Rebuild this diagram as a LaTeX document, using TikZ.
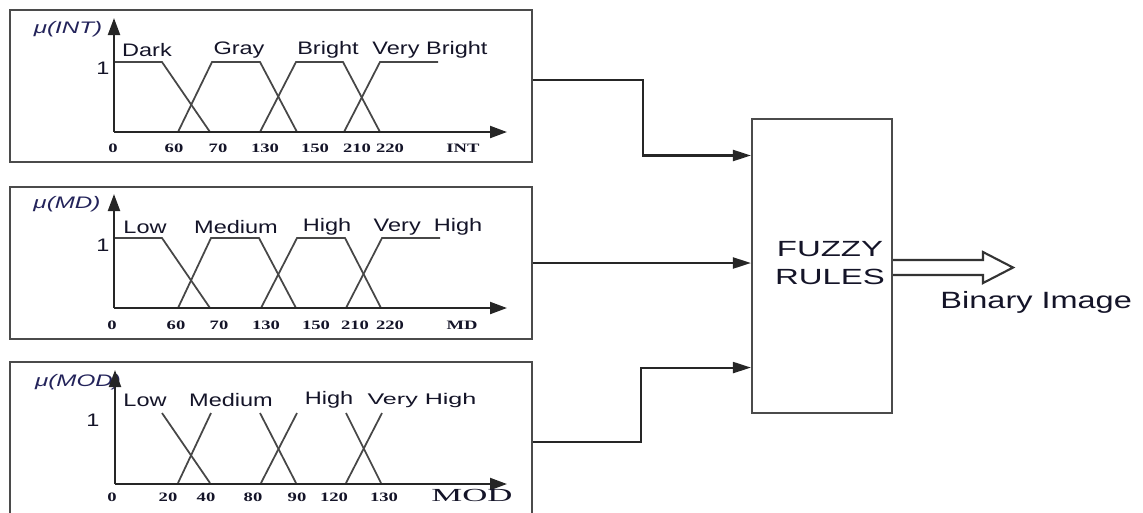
\documentclass[tikz,border=0pt]{standalone}
\usepackage{fontspec}
\setmainfont{Liberation Sans}
\newfontfamily\serifnum{Liberation Serif}
\definecolor{fzink}{RGB}{20,20,40}
\definecolor{fzmu}{RGB}{35,35,90}
\definecolor{fzframe}{RGB}{75,75,75}
\usetikzlibrary{arrows.meta,positioning,calc}

\begin{document}
\begin{tikzpicture}[x=0.02cm, y=-0.02cm,
    panel/.style={rectangle, draw=fzframe, line width=1.2pt, minimum width=10.44cm,
                  minimum height=3.04cm, inner sep=0pt},
    rulebox/.style={rectangle, draw=fzframe, line width=1.2pt, minimum width=2.8cm,
                    minimum height=5.88cm, inner sep=0pt},
    axis/.style={-{Triangle[length=0.34cm,width=0.24cm]}, line width=1.2pt, black!85},
    mf/.style={line width=1pt, black!72},
    link/.style={-{Triangle[length=0.36cm,width=0.22cm]}, line width=1.2pt, black!85},
    term/.style={font=\fontsize{10.3}{12}\selectfont, text=fzink, xscale=1.3, inner sep=0pt},
    mu/.style={font=\fontsize{9.5}{11}\selectfont\itshape, text=fzmu, xscale=1.45, inner sep=0pt},
    tick/.style={font=\fontsize{7.3}{8}\selectfont\serifnum\bfseries, text=fzink, xscale=1.45,
                 inner sep=0pt}
  ]
    \clip (0,0) rectangle (1143,512);

    % Input panels
    \node[panel] (intbox) at (271,86) {};
    \node[panel] (mdbox) at (271,263) {};
    \node[panel] (modbox) at (271,438) {};

    % Panel 1: INT
    \node[mu] (intmu) at (68,29) {μ(INT)};
    \node[term] (intone) at (103,68) {1};
    \node[term] (dark) at (147,50) {Dark};
    \node[term] (gray) at (239,50) {Gray};
    \node[term] (bright) at (328,50) {Bright};
    \node[term] (vbright) at (430,50) {Very Bright};
    \draw[mf] (114,62) -- (162,62) -- (210,132);
    \draw[mf] (178,132) -- (212,62) -- (260,62) -- (297,132);
    \draw[mf] (260,132) -- (296,62) -- (343,62) -- (380,132);
    \draw[mf] (344,132) -- (380,62) -- (438,62);
    \draw[axis] (114,132) -- (114,18);
    \draw[axis] (114,132) -- (507,132);
    \foreach \x/\t in {113/0,174/60,218/70,265/130,315/150,357/210,390/220}
      \node[tick] (int\t) at (\x,148) {\t};
    \node[tick] (intname) at (463,148) {INT};

    % Panel 2: MD
    \begin{scope}[shift={(0,176)}]
    \node[mu] (mdmu) at (67,28) {μ(MD)};
    \node[term] (mdone) at (103,69) {1};
    \node[term] (mdlow) at (145,51) {Low};
    \node[term] (mdmed) at (236,51) {Medium};
    \node[term] (mdhigh) at (327,51) {High};
    \node[term] (mdvhigh) at (428,51) {Very~ High};
    \draw[mf] (114,62) -- (162,62) -- (210,132);
    \draw[mf] (178,132) -- (211,62) -- (259,62) -- (296,132);
    \draw[mf] (261,132) -- (297,62) -- (345,62) -- (381,132);
    \draw[mf] (346,132) -- (382,62) -- (440,62);
    \draw[axis] (114,132) -- (114,18);
    \draw[axis] (114,132) -- (507,132);
    \foreach \x/\t in {112/0,176/60,219/70,266/130,316/150,355/210,390/220}
      \node[tick] (md\t) at (\x,149) {\t};
    \node[tick] (mdname) at (462,149) {MD};
    \end{scope}

    % Panel 3: MOD
    \begin{scope}[shift={(0,351)}]
    \node[mu] (modmu) at (78,31) {μ(MOD)};
    \node[term] (modone) at (93,69) {1};
    \node[term] (modlow) at (145,49) {Low};
    \node[term] (modmed) at (231,49) {Medium};
    \node[term] (modhigh) at (329,49) {High};
    \node[term, font=\fontsize{8.8}{10}\selectfont, xscale=1.25] (modvhigh) at (422,49) {Very High};
    \draw[mf] (162,62) -- (210,132);
    \draw[mf] (178,132) -- (211,62);
    \draw[mf] (260,62) -- (296,132);
    \draw[mf] (261,132) -- (297,62);
    \draw[mf] (346,62) -- (381,132);
    \draw[mf] (346,132) -- (382,62);
    \draw[axis] (115,133) -- (115,19);
    \draw[axis] (115,133) -- (507,133);
    \foreach \x/\t in {112/0,168/20,206/40,253/80,297/90,334/120,384/130}
      \node[tick] (mod\t) at (\x,146) {\t};
    \node[tick, font=\fontsize{10.5}{12}\selectfont\serifnum, xscale=1.3] (modname) at (472,144) {MOD};
    \end{scope}

    % Rule block
    \node[rulebox] (rules) at (822,266) {};
    \node[font=\fontsize{12.5}{16}\selectfont, text=fzink, xscale=1.5, align=center,
          inner sep=0pt] (rulestext) at (830,263) {FUZZY\\RULES};

    % Inputs into the rules
    \draw[link] ([yshift=3.4pt]intbox.east) -- ++(110,0) |- ([yshift=62.9pt]rules.west);
    \draw[link] (mdbox.east) -- (mdbox.east -| rules.west);
    \draw[link] ([yshift=-2.3pt]modbox.east) -- ++(108,0) |- ([yshift=-57.8pt]rules.west);

    % Output
    \draw[line width=1.2pt, black!80] ([yshift=3.4pt]rules.east) -- ++(90,0) -- ++(0,-8)
      -- ++(30,15.5) -- ++(-30,15.5) -- ++(0,-8) -- ++(-90,0);
    \node[font=\fontsize{13.4}{16}\selectfont, text=fzink, xscale=1.38, anchor=base west,
          inner sep=0pt] (binimg) at (940,308) {Binary Image};
  \end{tikzpicture}
\end{document}
